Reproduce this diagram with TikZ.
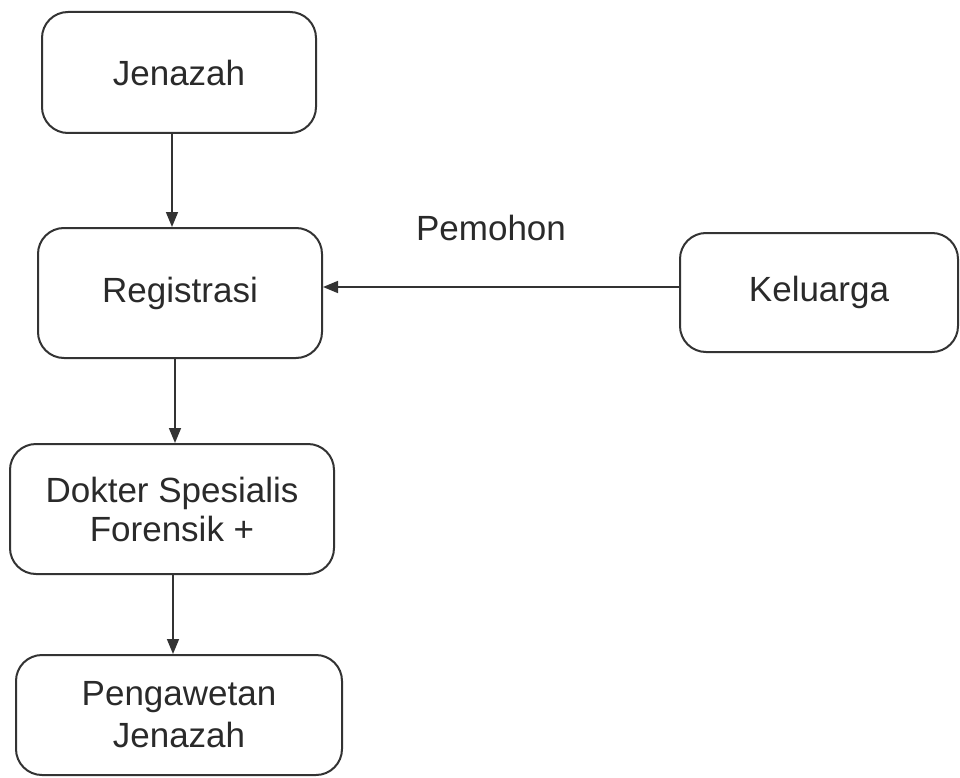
\documentclass[tikz,border=0pt]{standalone}
\usepackage{fontspec}
\setmainfont{Liberation Sans}
\usetikzlibrary{arrows.meta}
\definecolor{ln}{HTML}{333333}
\definecolor{tx}{HTML}{2A2A2A}
\begin{document}
\begin{tikzpicture}[x=1pt,y=-1pt,
  box/.style={draw=ln,line width=2pt,rounded corners=26pt,inner sep=0pt,
    text=tx,align=center,font=\fontsize{35}{39}\selectfont},
  arr/.style={draw=ln,line width=1.6pt,-{Triangle[length=15pt,width=12pt]}},
  lbl/.style={text=tx,font=\fontsize{35}{39}\selectfont,inner sep=0pt}]
\useasboundingbox (0,0) rectangle (960,778);
\node[box,minimum width=274pt,minimum height=121pt] (jen) at (179,72.5) {Jenazah};
\node[box,minimum width=284pt,minimum height=130pt] (reg) at (180,293) {Registrasi};
\node[box,minimum width=278pt,minimum height=119pt] (kel) at (819,292.5) {Keluarga};
\node[box,minimum width=324pt,minimum height=130pt] (dok) at (172,509) {Dokter Spesialis\\Forensik +};
\node[box,minimum width=326pt,minimum height=120pt] (pen) at (179,715) {Pengawetan\\[3pt]Jenazah};
\node[lbl] (pem) at (491,228) {Pemohon};
\draw[arr] (jen.south -| 172,0) -- (reg.north -| 172,0);
\draw[arr] (kel.west |- 0,287) -- (reg.east |- 0,287);
\draw[arr] (reg.south -| 175,0) -- (dok.north -| 175,0);
\draw[arr] (dok.south -| 173,0) -- (pen.north -| 173,0);
\end{tikzpicture}
\end{document}
